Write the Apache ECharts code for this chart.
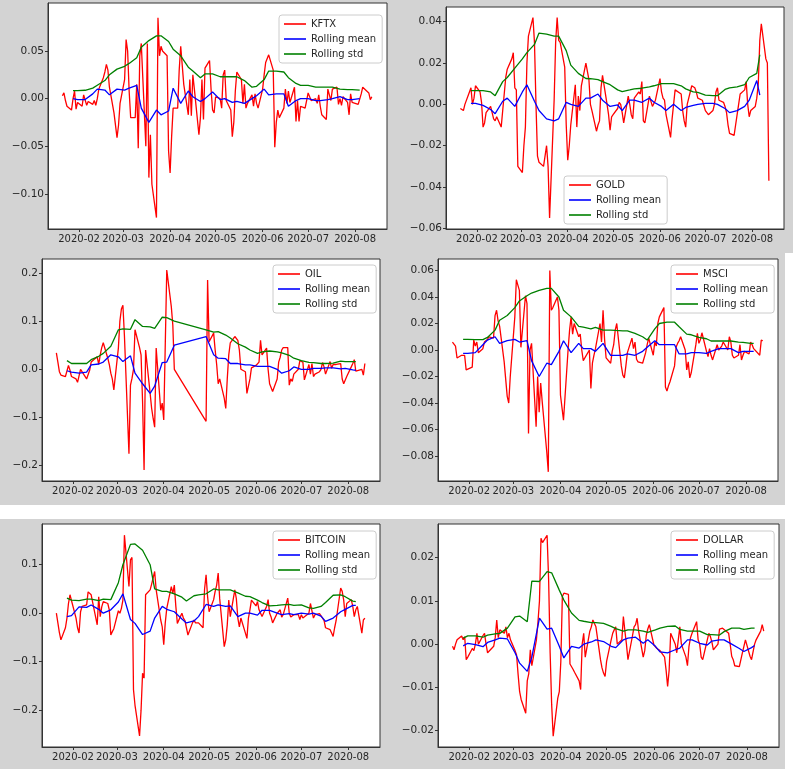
<!DOCTYPE html>
<html><head><meta charset="utf-8">
<script src="https://cdn.jsdelivr.net/npm/echarts@6/dist/echarts.min.js"></script>
<style>
html,body{margin:0;padding:0;background:#fff;overflow:hidden}
#wrap{position:relative;width:793px;height:773px}
.bg{position:absolute;background:#d3d3d3}
.wh{position:absolute;background:#fff}
#c{position:absolute;left:0;top:0;width:793px;height:773px}
</style>
</head><body>
<div id="wrap">
<div class="bg" style="left:0;top:0;width:793px;height:505px"></div>
<div class="wh" style="left:785px;top:253px;width:8px;height:252px"></div>
<div class="bg" style="left:0;top:519px;width:785px;height:250px"></div>
<div id="c"></div>
</div>
<script>
// ---------- categories (x) ----------
const START_DATE = '2020-01-21';
const END_DATE = '2020-08-12';
const X_TICKS = ['2020-02-01','2020-03-01','2020-04-01','2020-05-01','2020-06-01','2020-07-01','2020-08-01'];
const ROLL_DATES = ['2020-01-28','2020-01-31','2020-02-05','2020-02-10','2020-02-13','2020-02-18','2020-02-21','2020-02-26',
 '2020-03-02','2020-03-05','2020-03-10','2020-03-13','2020-03-18','2020-03-23','2020-03-26','2020-03-31','2020-04-03',
 '2020-04-08','2020-04-13','2020-04-16','2020-04-21','2020-04-24','2020-04-29','2020-05-04','2020-05-07','2020-05-12',
 '2020-05-15','2020-05-20','2020-05-25','2020-05-28','2020-06-02','2020-06-05','2020-06-10','2020-06-15','2020-06-18',
 '2020-06-23','2020-06-26','2020-07-01','2020-07-06','2020-07-09','2020-07-14','2020-07-17','2020-07-22','2020-07-27',
 '2020-07-30','2020-08-04','2020-08-06'];

// ---------- y tick labels ----------
const Y_TICKS_KFTX = [-0.10,-0.05,0,0.05];
const Y_TICKS_GOLD = [-0.06,-0.04,-0.02,0,0.02,0.04];
const Y_TICKS_OIL = [-0.2,-0.1,0,0.1,0.2];
const Y_TICKS_MSCI = [-0.08,-0.06,-0.04,-0.02,0,0.02,0.04,0.06];
const Y_TICKS_BITCOIN = [-0.2,-0.1,0,0.1];
const Y_TICKS_DOLLAR = [-0.02,-0.01,0,0.01,0.02];

// ---------- series values (one per trading day) ----------
const KFTX = [
 0.003,0.006,-0.002,-0.008,
 -0.012,0.0,0.008,-0.011,-0.004,
 -0.008,0.004,0.006,-0.007,-0.003,
 -0.006,-0.002,-0.007,0.0,0.01,
 0.022,0.028,0.036,0.03,0.012,
 -0.015,-0.016,-0.041,-0.028,-0.005,
 0.02,0.062,0.05,0.008,-0.02,
 -0.02,0.015,-0.052,0.045,0.058,
 -0.05,0.058,-0.083,-0.038,-0.09,
 -0.125,0.085,0.045,0.055,0.05,
 0.045,-0.055,-0.078,-0.04,-0.01,
 -0.01,0.03,0.055,0.035,0.015,
 -0.017,0.02,-0.018,0.025,0.01,
 -0.038,-0.02,0.02,-0.022,0.032,
 0.04,0.01,-0.012,-0.015,0.002,
 0.0,-0.01,0.025,0.03,-0.002,
 -0.012,-0.04,-0.025,0.008,0.028,
 0.02,-0.005,0.015,-0.01,-0.005,
 0.004,-0.008,0.005,-0.005,-0.01,
 0.01,0.025,0.038,0.04,0.046,
 0.03,-0.051,-0.025,-0.012,-0.02,
 -0.01,0.01,-0.005,0.008,-0.004,
 0.012,-0.024,-0.002,-0.024,-0.008,
 -0.01,-0.002,0.006,0.008,-0.002,
 0.0,-0.005,0.004,-0.008,-0.017,
 -0.022,0.01,0.004,-0.002,0.01,
 0.012,-0.006,0.0,-0.007,0.002,
 -0.004,-0.017,0.005,-0.004,-0.005,
 -0.006,-0.004,0.005,0.012,0.01,
 0.006,-0.001,0.002];
const KFTX_MEAN = [0.0,-0.001,-0.001,0.005,0.01,0.009,0.004,0.01,0.009,0.011,0.014,-0.01,-0.025,-0.012,-0.017,-0.013,0.011,
 -0.005,0.008,0.002,-0.003,0.0,0.007,-0.001,0.0,-0.004,-0.003,-0.005,0.0,0.003,0.01,0.004,0.005,0.005,-0.008,-0.002,0.0,0.0,
 -0.002,-0.002,-0.001,0.0,0.002,-0.001,-0.001,0.0,null];
const KFTX_STD = [0.0085,0.0085,0.0088,0.011,0.014,0.019,0.025,0.031,0.034,0.037,0.043,0.054,0.061,0.066,0.066,0.06,0.052,
 0.045,0.033,0.029,0.022,0.026,0.026,0.023,0.023,0.023,0.023,0.019,0.012,0.013,0.02,0.029,0.029,0.028,0.022,0.016,0.014,
 0.014,0.012,0.012,0.012,0.012,0.01,0.0095,0.0095,0.009,null];

const GOLD = [
 -0.002,-0.002,-0.003,0.0,
 0.006,0.008,0.0,0.003,0.009,
 0.006,0.001,-0.011,-0.009,-0.004,
 -0.001,-0.004,-0.007,-0.008,-0.006,
 -0.011,-0.003,0.005,0.013,0.017,
 0.022,0.025,0.008,0.007,-0.03,
 -0.033,-0.02,-0.011,0.02,0.033,
 0.042,0.03,0.0,-0.025,-0.028,
 -0.03,-0.03,-0.02,-0.03,-0.055,
 0.002,0.03,0.042,0.031,0.03,
 0.018,-0.01,-0.027,-0.02,-0.01,
 0.0095,-0.011,0.004,-0.003,0.009,
 0.02,0.02,0.012,0.0,-0.003,
 -0.013,-0.01,-0.008,0.008,0.014,
 0.0,-0.005,-0.0125,-0.006,-0.005,
 -0.002,0.001,0.0,-0.004,-0.009,
 0.004,0.0,-0.005,-0.007,0.003,
 0.006,0.005,0.011,-0.008,-0.009,
 0.004,0.004,-0.001,-0.001,0.002,
 0.0125,0.006,0.003,0.002,-0.005,
 -0.016,-0.007,0.0,0.007,0.007,
 0.005,-0.003,-0.008,-0.011,0.0,
 0.009,0.009,0.008,0.006,0.003,
 0.002,0.002,-0.003,-0.004,-0.005,
 -0.003,0.0,0.006,0.008,0.002,
 0.001,-0.001,-0.004,-0.01,-0.014,
 -0.015,-0.01,-0.005,0.0,0.005,
 0.007,0.011,0.0,-0.006,-0.003,
 -0.001,0.003,0.01,0.031,0.039,
 0.022,0.02,-0.037];
const GOLD_MEAN = [0.0005,0.0005,-0.0005,-0.0025,-0.0045,0.0015,0.003,-0.001,0.006,0.0095,0.0015,-0.003,-0.007,-0.008,
 -0.007,0.001,0.0,-0.001,0.003,0.003,0.005,0.002,-0.001,-0.0003,-0.003,0.002,0.002,0.001,0.003,0.001,-0.001,-0.003,0.0,
 -0.003,-0.0015,-0.0005,0.0,0.0005,0.0005,0.0,-0.002,-0.004,-0.003,-0.001,0.002,0.0115,0.0045];
const GOLD_STD = [0.0066,0.0066,0.0066,0.006,0.0042,0.011,0.013,0.0175,0.022,0.025,0.029,0.0345,0.034,0.033,0.033,0.026,
 0.019,0.015,0.0125,0.0124,0.012,0.011,0.0095,0.007,0.0062,0.007,0.0075,0.0078,0.0085,0.009,0.01,0.01,0.01,0.009,0.0075,
 0.006,0.0058,0.0045,0.0042,0.0042,0.0072,0.008,0.0085,0.0095,0.013,0.015,0.024];

const OIL = [
 0.034,0.015,-0.005,-0.012,
 -0.015,-0.012,0.008,-0.002,-0.015,
 -0.02,-0.027,-0.029,0.0,0.003,
 -0.02,-0.022,-0.002,0.015,0.012,
 0.026,0.01,0.03,0.045,0.055,
 0.023,0.01,-0.008,-0.02,-0.043,
 0.044,0.1,0.125,0.133,0.07,
 -0.175,-0.033,-0.019,0.0,0.082,
 0.045,0.03,-0.067,-0.209,0.04,
 -0.05,-0.081,-0.102,-0.12,0.044,
 -0.085,-0.07,-0.105,0.05,0.206,
 0.13,0.092,0.0,null,null,
 null,null,null,null,null,
 null,null,null,null,null,
 null,null,-0.108,0.185,0.057,
 0.075,0.04,0.01,-0.03,-0.02,
 -0.06,-0.081,-0.02,0.03,0.055,
 0.068,0.072,0.06,0.04,0.0,
 -0.005,-0.05,-0.053,-0.02,0.003,
 0.008,0.005,0.015,0.06,0.03,
 0.044,0.0,-0.03,-0.033,-0.046,
 -0.02,0.015,0.025,0.04,0.045,
 0.045,-0.033,-0.02,-0.025,-0.01,
 0.0,0.018,0.014,0.015,-0.022,
 0.01,-0.01,0.012,-0.015,-0.01,
 -0.005,0.0,0.014,0.005,-0.01,
 0.016,0.002,0.01,0.006,0.01,
 0.012,-0.02,-0.03,-0.028,-0.015,
 0.005,0.012,0.02,-0.004,-0.008,
 0.0,-0.012,0.012];
const OIL_MEAN = [-0.003,-0.006,-0.008,-0.006,0.009,0.011,0.015,0.03,0.026,0.016,0.028,-0.008,-0.03,-0.05,-0.035,0.014,
 0.015,0.05,null,null,null,null,0.068,0.03,0.023,0.022,0.012,0.012,0.009,0.009,0.006,0.006,0.006,0.0,-0.008,-0.003,0.005,
 0.0,0.0,0.002,0.002,0.003,0.003,0.001,0.002,-0.001,-0.002];
const OIL_STD = [0.018,0.012,0.012,0.012,0.02,0.027,0.033,0.048,0.082,0.084,0.083,0.103,0.089,0.088,0.085,0.108,0.107,0.1,
 null,null,null,null,0.082,0.077,0.078,0.071,0.065,0.053,0.046,0.04,0.033,0.036,0.038,0.036,0.034,0.029,0.023,0.018,0.0145,
 0.014,0.012,0.012,0.013,0.017,0.016,0.016,0.016];

const MSCI = [
 0.006,0.007,0.003,-0.006,
 -0.004,-0.003,-0.004,-0.015,-0.016,
 -0.013,0.0075,0.003,0.006,-0.002,
 0.001,0.006,0.005,0.008,0.01,
 0.009,0.026,0.03,0.022,0.018,
 -0.009,-0.008,-0.035,-0.04,-0.02,
 0.025,0.053,0.049,0.045,0.002,
 0.041,0.035,-0.063,0.0,0.005,
 -0.058,-0.02,-0.047,-0.025,-0.039,
 -0.077,-0.092,0.06,0.03,0.032,
 0.04,0.03,-0.034,-0.035,-0.053,
 0.0,0.015,0.025,0.012,0.02,
 0.01,0.012,0.0,-0.008,-0.009,
 0.0,-0.029,-0.01,-0.004,0.001,
 0.02,0.006,0.03,0.008,-0.006,
 -0.01,-0.001,0.004,0.015,0.02,
 -0.012,-0.019,-0.021,-0.012,-0.002,
 0.009,0.001,0.006,-0.007,-0.009,
 -0.01,-0.01,-0.002,0.004,0.009,
 -0.004,0.006,0.003,0.02,0.025,
 0.032,-0.028,-0.031,-0.027,-0.024,
 -0.012,0.002,0.005,0.007,0.01,
 0.0,-0.015,-0.009,-0.021,-0.017,
 0.004,0.0125,0.005,0.008,0.013,
 -0.001,-0.005,0.001,-0.004,-0.0075,
 0.004,0.0,-0.001,0.003,0.006,
 0.0,0.01,0.006,-0.004,-0.006,
 -0.004,0.004,-0.0075,-0.004,-0.001,
 -0.003,0.006,0.004,0.001,0.0,
 -0.004,0.0075,0.007];
const MSCI_MEAN = [-0.0025,-0.0025,-0.002,0.004,0.0075,0.01,0.005,0.007,0.008,0.006,0.007,-0.008,-0.02,-0.01,-0.011,
 -0.001,0.007,-0.002,0.005,0.001,0.001,-0.001,0.005,-0.004,-0.004,-0.004,-0.003,-0.004,-0.001,0.002,0.007,0.004,0.004,
 0.004,-0.003,-0.003,-0.002,-0.002,-0.0025,-0.001,0.001,0.001,0.001,-0.002,-0.001,-0.001,-0.001];
const MSCI_STD = [0.008,0.008,0.0078,0.0078,0.0095,0.015,0.0225,0.026,0.032,0.037,0.041,0.043,0.045,0.0465,0.0465,0.04,
 0.03,0.025,0.0178,0.0172,0.016,0.017,0.015,0.015,0.0148,0.0145,0.0145,0.0125,0.01,0.0075,0.016,0.02,0.021,0.021,0.0175,
 0.012,0.0115,0.0095,0.0085,0.0068,0.0068,0.0068,0.0068,0.006,0.0058,0.005,0.005];

const BITCOIN = [
 0.0,-0.02,-0.04,-0.055,
 -0.03,-0.01,0.02,0.038,0.041,
 -0.01,-0.03,-0.041,0.003,0.014,
 0.017,0.044,0.048,0.038,0.041,
 -0.024,0.034,-0.007,0.013,0.024,
 0.02,0.007,-0.045,-0.038,-0.032,
 0.005,0.0,0.01,0.027,0.161,
 0.055,0.11,0.115,-0.158,-0.19,
 -0.253,-0.2,-0.124,-0.134,0.038,
 0.048,0.06,0.06,0.086,0.048,
 -0.014,-0.028,-0.065,-0.02,0.01,
 0.055,0.041,0.058,0.014,-0.021,
 0.0,-0.01,-0.015,-0.03,-0.045,
 -0.02,-0.014,-0.02,-0.02,-0.02,
 -0.03,0.05,0.079,0.034,0.003,
 0.028,0.045,0.058,0.083,0.03,
 -0.069,-0.055,-0.024,0.027,-0.007,
 0.048,0.03,-0.01,-0.028,-0.01,
 -0.041,-0.052,-0.01,0.007,0.027,
 0.015,0.024,0.007,0.01,-0.007,
 0.014,0.028,0.0,-0.008,-0.02,
 0.0,-0.003,0.007,-0.008,-0.003,
 0.031,0.0,-0.008,-0.01,-0.003,
 -0.003,-0.013,-0.003,-0.01,-0.007,
 0.0,0.02,0.024,-0.01,-0.003,
 -0.001,0.0,-0.01,-0.015,-0.03,
 -0.034,-0.041,-0.048,-0.03,-0.015,
 0.052,0.045,0.027,-0.007,0.02,
 0.028,0.014,-0.007,0.007,0.014,
 -0.041,-0.014,-0.01];
const BITCOIN_MEAN = [-0.007,-0.005,0.013,0.012,0.017,0.008,0.0,0.007,0.023,0.04,-0.013,-0.021,-0.044,-0.037,-0.01,0.014,
 0.008,0.003,-0.012,-0.02,-0.016,-0.007,0.018,0.014,0.017,0.014,0.015,-0.007,0.0,0.0,-0.004,0.006,0.006,0.0,-0.003,-0.001,
 -0.003,0.0,-0.002,0.0,-0.006,-0.017,-0.01,0.003,0.008,0.016,0.016];
const BITCOIN_STD = [0.031,0.027,0.026,0.029,0.029,0.026,0.029,0.028,0.063,0.1,0.142,0.143,0.13,0.1,0.05,0.045,0.045,0.04,
 0.033,0.025,0.036,0.038,0.04,0.05,0.048,0.048,0.048,0.042,0.035,0.034,0.027,0.022,0.015,0.016,0.017,0.018,0.016,0.017,
 0.011,0.01,0.014,0.022,0.037,0.038,0.034,0.025,0.024];

const DOLLAR = [
 -0.0005,-0.0013,0.0,0.001,
 0.0019,0.001,0.0017,-0.0036,-0.003,
 -0.001,-0.0015,0.0,0.0025,0.0,
 0.002,0.0025,0.0,-0.002,-0.002,
 -0.0005,0.0015,0.0056,0.0015,0.0033,
 0.0025,0.004,0.0015,0.0025,0.001,
 -0.0015,-0.0025,-0.007,-0.011,-0.0128,
 -0.016,-0.0085,-0.0068,-0.0013,-0.005,
 0.001,0.005,0.01,0.0245,0.0235,
 0.0252,0.015,-0.002,-0.014,-0.0213,
 -0.0125,-0.011,-0.004,0.011,0.0118,
 0.0115,-0.0046,-0.005,-0.0058,-0.0065,
 -0.0085,-0.0105,0.0,0.0025,-0.003,
 0.003,0.004,0.0056,0.006,0.004,
 -0.0036,-0.0055,-0.0067,-0.0075,-0.004,
 0.001,0.0025,0.0033,0.004,0.0,
 0.001,0.0064,0.003,0.0,-0.0036,
 0.002,0.004,0.0045,0.006,0.003,
 -0.003,-0.0015,0.002,0.0035,0.0045,
 -0.0002,-0.0005,-0.001,-0.0013,-0.0015,
 -0.003,-0.006,-0.0098,-0.006,0.0025,
 0.0,-0.002,0.001,0.004,0.0,
 -0.003,-0.005,-0.0005,0.0015,0.0025,
 0.0052,0.001,0.0,-0.003,-0.0036,
 0.001,0.0025,0.0018,0.0005,-0.0013,
 0.0,0.0035,0.0033,0.0037,0.0037,
 0.0025,0.0,-0.0028,-0.0036,-0.005,
 -0.0052,-0.0055,-0.002,-0.0005,0.001,
 -0.0028,-0.0036,-0.004,0.0,0.001,
 0.003,0.0045,0.003];
const DOLLAR_MEAN = [-0.0004,0.0002,-0.0001,-0.0006,0.0004,0.001,0.0014,0.0012,-0.002,-0.0044,-0.0063,-0.003,0.006,0.0035,
 0.0037,-0.0005,-0.0032,-0.0005,-0.0009,0.0,0.0005,0.001,0.0006,-0.0005,-0.0008,0.001,0.0014,0.0016,0.0002,0.001,-0.0005,
 -0.0018,-0.002,-0.0013,-0.0009,0.001,0.001,0.0002,-0.0002,0.0007,0.001,0.001,0.0,-0.001,-0.0017,-0.0008,-0.0003];
const DOLLAR_STD = [0.0014,0.0019,0.0019,0.0016,0.0021,0.0024,0.0025,0.0037,0.0063,0.0065,0.0052,0.0146,0.0145,0.0168,
 0.0165,0.0125,0.0102,0.0072,0.0055,0.0053,0.005,0.005,0.0048,0.0041,0.0036,0.003,0.0033,0.0033,0.003,0.0027,0.0033,0.0037,
 0.0041,0.0042,0.0034,0.003,0.003,0.003,0.0022,0.0022,0.0021,0.0029,0.0037,0.0037,0.0034,0.0037,0.0037];

// ---------- build ----------
function toTs(s){ const p = s.split('-'); return new Date(+p[0], +p[1]-1, +p[2]).getTime(); }
function tradingDays(a, b){
  const out = []; const d = new Date(toTs(a)); const end = toTs(b);
  while (d.getTime() <= end){ const w = d.getDay(); if (w !== 0 && w !== 6) out.push(d.getTime()); d.setDate(d.getDate()+1); }
  return out;
}
const DAYS = tradingDays(START_DATE, END_DATE);
const ROLL_TS = ROLL_DATES.map(toTs);
const X_TS = X_TICKS.map(toTs);
const X_MIN = new Date(2020,0,11,12).getTime();
const X_MAX = new Date(2020,7,22).getTime();

const PANELS = [
 {name:'KFTX', v:KFTX, m:KFTX_MEAN, s:KFTX_STD, ticks:Y_TICKS_KFTX, dec:2, min:-0.137, max:0.1005,
  grid:{left:48,top:3,width:339,height:226}, legend:{left:279,top:15}},
 {name:'GOLD', v:GOLD, m:GOLD_MEAN, s:GOLD_STD, ticks:Y_TICKS_GOLD, dec:2, min:-0.0603, max:0.0471,
  grid:{left:446,top:7,width:338,height:222}, legend:{left:564,top:176}},
 {name:'OIL', v:OIL, m:OIL_MEAN, s:OIL_STD, ticks:Y_TICKS_OIL, dec:1, min:-0.2317, max:0.2288,
  grid:{left:42,top:259,width:338,height:222}, legend:{left:273,top:265}},
 {name:'MSCI', v:MSCI, m:MSCI_MEAN, s:MSCI_STD, ticks:Y_TICKS_MSCI, dec:2, min:-0.0989, max:0.0687,
  grid:{left:438,top:259,width:340,height:222}, legend:{left:671,top:265}},
 {name:'BITCOIN', v:BITCOIN, m:BITCOIN_MEAN, s:BITCOIN_STD, ticks:Y_TICKS_BITCOIN, dec:1, min:-0.276, max:0.184,
  grid:{left:42,top:524,width:338,height:223}, legend:{left:273,top:531}},
 {name:'DOLLAR', v:DOLLAR, m:DOLLAR_MEAN, s:DOLLAR_STD, ticks:Y_TICKS_DOLLAR, dec:2, min:-0.0238, max:0.0278,
  grid:{left:438,top:524,width:341,height:223}, legend:{left:671,top:531}}
];

const FONT = 'DejaVu Sans';
const TXT = '#262626';
const FRAME = '#333333';
function pad2(n){ return (n < 10 ? '0' : '') + n; }
function fmtX(v){ const d = new Date(v); return d.getFullYear() + '-' + pad2(d.getMonth()+1); }
function fmtY(v, dec){ const r = Math.abs(v) < 1e-12 ? 0 : v; const s = Math.abs(r).toFixed(dec); return r < 0 ? '\u2212' + s : s; }
function pairs(ts, vals){ return ts.map((t,i) => [t, (vals[i] === null || vals[i] === undefined) ? '-' : vals[i]]); }

const grid = [], xAxis = [], yAxis = [], series = [], legend = [];
PANELS.forEach((p, i) => {
  grid.push(Object.assign({show:true, backgroundColor:'#ffffff', borderColor:FRAME, borderWidth:1, containLabel:false}, p.grid));
  xAxis.push({type:'value', gridIndex:i, min:X_MIN, max:X_MAX,
    axisLine:{show:true, onZero:false, lineStyle:{color:FRAME, width:1}},
    axisTick:{show:true, length:3, lineStyle:{color:FRAME}, customValues:X_TS},
    axisLabel:{show:true, customValues:X_TS, formatter:fmtX, color:TXT, fontSize:10, fontFamily:FONT, margin:5, hideOverlap:false},
    splitLine:{show:false}, minorTick:{show:false}});
  yAxis.push({type:'value', gridIndex:i, min:p.min, max:p.max,
    axisLine:{show:true, onZero:false, lineStyle:{color:FRAME, width:1}},
    axisTick:{show:true, length:3, lineStyle:{color:FRAME}, customValues:p.ticks},
    axisLabel:{show:true, customValues:p.ticks, formatter:(v)=>fmtY(v, p.dec), color:TXT, fontSize:10.5, fontFamily:FONT, margin:4},
    splitLine:{show:false}});
  const base = {type:'line', xAxisIndex:i, yAxisIndex:i, symbol:'none', showSymbol:false, connectNulls:true, animation:false, z:2};
  series.push(Object.assign({}, base, {name:p.name, data:pairs(DAYS, p.v), lineStyle:{color:'#ff0000', width:1.3}, itemStyle:{color:'#ff0000'}}));
  series.push(Object.assign({}, base, {name:'Rolling mean', data:pairs(ROLL_TS, p.m), lineStyle:{color:'#0000ff', width:1.3}, itemStyle:{color:'#0000ff'}}));
  series.push(Object.assign({}, base, {name:'Rolling std', data:pairs(ROLL_TS, p.s), lineStyle:{color:'#008000', width:1.3}, itemStyle:{color:'#008000'}}));
  legend.push({orient:'vertical', left:p.legend.left, top:p.legend.top, data:[p.name,'Rolling mean','Rolling std'],
    icon:'rect', itemWidth:22, itemHeight:1.6, itemGap:3, itemTextGap:7, selectedMode:false,
    backgroundColor:'#ffffff', borderColor:'#cccccc', borderWidth:1, borderRadius:3, padding:[3,6,3,5],
    textStyle:{fontSize:10, color:TXT, fontFamily:FONT, lineHeight:12}});
});

if (DAYS.length !== 147) console.error('trading days', DAYS.length);
PANELS.forEach(p => { if (p.v.length !== DAYS.length) console.error(p.name, 'len', p.v.length);
  if (p.m.length !== ROLL_TS.length || p.s.length !== ROLL_TS.length) console.error(p.name, 'roll len', p.m.length, p.s.length); });

const chart = echarts.init(document.getElementById('c'), null, {renderer:'canvas', width:793, height:773});
chart.setOption({animation:false, backgroundColor:'transparent', grid, xAxis, yAxis, series, legend});
</script>
</body></html>
